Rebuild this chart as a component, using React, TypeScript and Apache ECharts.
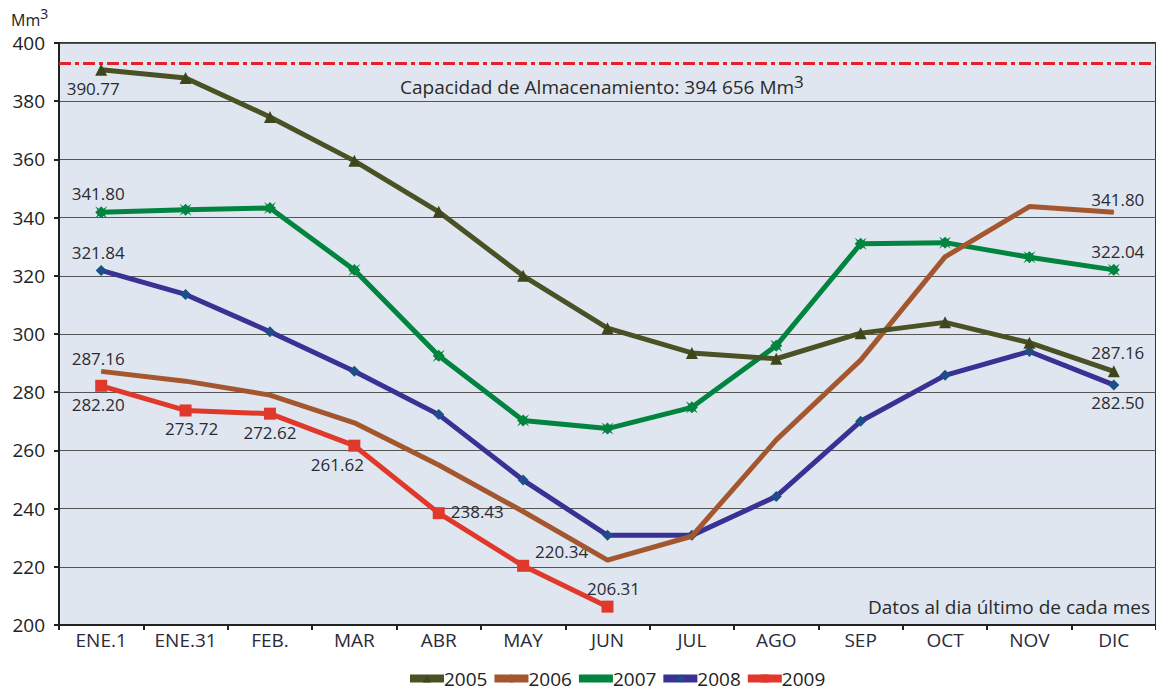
import React, { useEffect, useRef } from "react";
import * as echarts from "echarts";

const categories = ["ENE.1", "ENE.31", "FEB.", "MAR", "ABR", "MAY", "JUN", "JUL", "AGO", "SEP", "OCT", "NOV", "DIC"];
const years = ["2005", "2006", "2007", "2008", "2009"];
const s2005 = [390.77, 388.0, 374.6, 359.5, 342.0, 320.0, 302.0, 293.5, 291.5, 300.3, 304.0, 297.0, 287.16];
const s2006 = [287.16, 283.8, 279.0, 269.5, 255.0, 239.0, 222.3, 230.5, 263.6, 291.0, 326.5, 343.8, 341.8];
const s2007 = [341.8, 342.7, 343.3, 322.0, 292.5, 270.3, 267.5, 274.8, 296.0, 331.0, 331.4, 326.4, 322.04];
const s2008 = [321.84, 313.6, 300.8, 287.2, 272.3, 249.8, 230.8, 230.8, 244.2, 270.0, 285.8, 294.0, 282.5];
const s2009 = [282.2, 273.72, 272.62, 261.62, 238.43, 220.34, 206.31];
const capacity = 393.2;
const yTicks = { min: 200, max: 400, interval: 20 };

const colors = ["#4a5124", "#a4572f", "#00843f", "#3a3194", "#e0392b"];
const markerColors = ["#3f461c", "#a4572f", "#00843f", "#1c4f88", "#e0392b"];
const symbols = [
  "triangle",
  "circle",
  "path://M0,0 L3,2 L5,0 L7,2 L10,0 L8,3 L10,5 L8,7 L10,10 L7,8 L5,10 L3,8 L0,10 L2,7 L0,5 L2,3 Z",
  "diamond",
  "rect",
];
const symbolSizes = [12, 1, 12, 11, 12];

// label placements (style): index -> [position, offsetX, offsetY]
const labelCfg: Record<number, [string, number, number]>[] = [
  { 0: ["bottom", -8, 0], 12: ["top", 4, 0] },
  { 0: ["top", -3, 0], 12: ["top", 4, 0] },
  { 0: ["top", -3, 0], 12: ["top", 4, 0] },
  { 0: ["top", -3, 0], 12: ["bottom", 4, 0] },
  {
    0: ["bottom", -3, 0],
    1: ["bottom", 6, 0],
    2: ["bottom", 0, 0],
    3: ["bottom", -17, 0],
    4: ["right", 2, -2],
    5: ["right", 2, -14],
    6: ["top", 6, 0],
  },
];

const FONT = "Open Sans";

export default function App() {
  const ref = useRef<HTMLDivElement>(null);
  useEffect(() => {
    if (!ref.current) return;
    const chart = echarts.init(ref.current, undefined, { renderer: "svg" });
    const all = [s2005, s2006, s2007, s2008, s2009];
    const series: any[] = all.map((arr, si) => ({
      name: years[si],
      type: "line",
      data: arr.map((v, i) => {
        const c = labelCfg[si][i];
        if (!c) return v;
        return {
          value: v,
          label: {
            show: true,
            position: c[0],
            offset: [c[1], c[2]],
            distance: 4,
            formatter: (p: any) => Number(p.value).toFixed(2),
            color: "#2b2b33",
            fontSize: 17,
            fontFamily: FONT,
          },
        };
      }),
      symbol: symbols[si],
      symbolSize: symbolSizes[si],
      showSymbol: true,
      lineStyle: { width: 5, color: colors[si] },
      itemStyle: { color: markerColors[si] },
      z: 10 - si,
      markLine:
        si === 0
          ? {
              silent: true,
              symbol: "none",
              label: { show: false },
              lineStyle: { color: "#e3202b", width: 3, type: [12, 4, 4, 4] },
              data: [{ yAxis: capacity }],
            }
          : undefined,
    }));

    chart.setOption({
      animation: false,
      grid: {
        left: 59,
        top: 43,
        bottom: 67,
        width: 1105,
        show: true,
        backgroundColor: "#dfe6f0",
        borderColor: "#333",
        borderWidth: 2,
      },
      legend: {
        data: years,
        left: 406,
        bottom: 4,
        padding: 0,
        itemWidth: 34,
        itemHeight: 10,
        itemGap: 3,
        lineStyle: { width: 8 },
        textStyle: { fontSize: 19, color: "#222", fontFamily: FONT, padding: [0, 0, 0, -5] },
      },
      xAxis: {
        type: "category",
        data: categories,
        boundaryGap: true,
        axisLine: { lineStyle: { color: "#222", width: 2 } },
        axisTick: { show: true, length: 5, lineStyle: { color: "#222", width: 2 } },
        axisLabel: { color: "#2a2a3a", fontSize: 19, fontFamily: FONT, margin: 5 },
      },
      yAxis: {
        type: "value",
        min: yTicks.min,
        max: yTicks.max,
        interval: yTicks.interval,
        axisLine: { show: true, lineStyle: { color: "#222", width: 2 } },
        axisTick: { show: true, length: 5, lineStyle: { color: "#222", width: 2 } },
        axisLabel: { color: "#222", fontSize: 19, fontFamily: FONT, margin: 14 },
        splitLine: { lineStyle: { color: "#555", width: 1 } },
      },
      graphic: [
        {
          type: "text",
          left: 11,
          top: 6,
          style: {
            text: "{a|Mm}{s|3}",
            rich: {
              a: { fontSize: 16, fontFamily: FONT, fill: "#222", verticalAlign: "bottom" },
              s: { fontSize: 14, fontFamily: FONT, fill: "#222", verticalAlign: "top", padding: [0, 0, 8, 0] },
            },
          },
        },
        {
          type: "text",
          left: 400,
          top: 73,
          z: 20,
          style: {
            text: "{a|Capacidad de Almacenamiento: 394 656 Mm}{s|3}",
            rich: {
              a: { fontSize: 19, fontFamily: FONT, fill: "#2a2a2a" },
              s: { fontSize: 17, fontFamily: FONT, fill: "#2a2a2a", padding: [0, 0, 10, 0] },
            },
          },
        },
        {
          type: "text",
          right: 6,
          top: 597,
          z: 20,
          style: {
            text: "Datos al dia último de cada mes",
            fontSize: 19,
            fontFamily: FONT,
            fill: "#2a2a2a",
          },
        },
      ],
      series,
    });
    return () => chart.dispose();
  }, []);
  return (
    <div
      ref={ref}
      style={{ position: "fixed", left: 0, top: 0, width: 1156, height: 692, background: "#fff" }}
    />
  );
}
